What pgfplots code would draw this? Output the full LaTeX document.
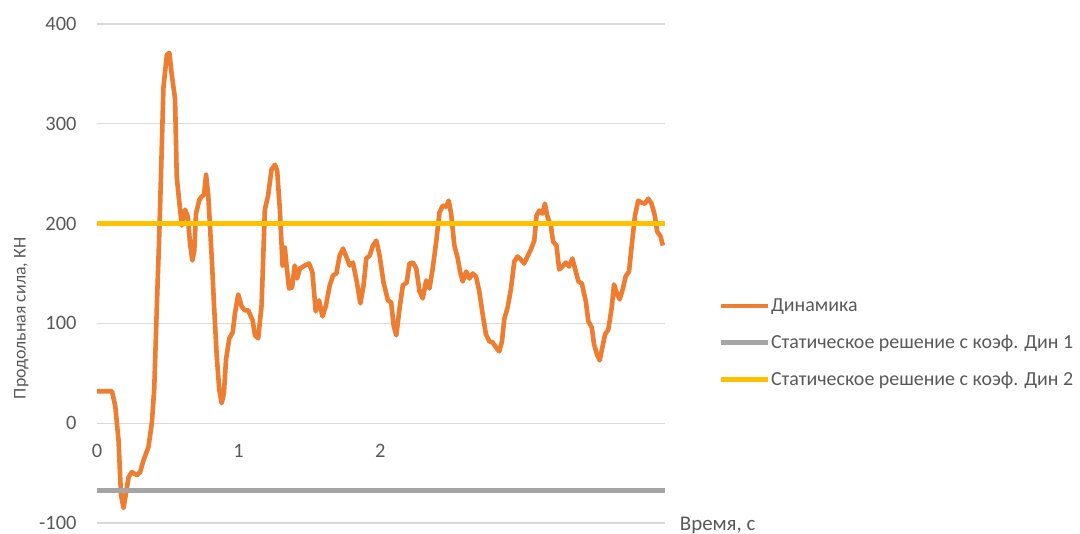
\documentclass[border=0pt]{standalone}
\usepackage{pgfplots}
\pgfplotsset{compat=1.18}
\usepackage{fontspec}
\setmainfont{Carlito}
\definecolor{cOrange}{HTML}{ED7D31}
\definecolor{cGray}{HTML}{A5A5A5}
\definecolor{cYellow}{HTML}{FFC000}
\definecolor{cText}{HTML}{595959}
\definecolor{cGrid}{HTML}{D9D9D9}
\begin{document}
\begin{tikzpicture}
\useasboundingbox (0,0) rectangle (1080bp,534bp);
\begin{axis}[
  at={(97bp,11bp)}, anchor=south west,
  scale only axis, width=568bp, height=499bp,
  xmin=0, xmax=4.01, ymin=-100, ymax=400,
  axis x line=middle, axis y line=left,
  hide obscured x ticks=false,
  axis line style={draw=none},
  major tick length=0pt,
  xtick={0,1,2}, ytick={-100,0,100,200,300,400},
  ymajorgrids, grid style={cGrid, line width=1.2bp},
  /pgf/number format/assume math mode=true,
  tick label style={font=\fontsize{20.5}{24}\selectfont, text=cText},
  xticklabel style={anchor=north, yshift=-18bp},
  yticklabel style={anchor=east, xshift=-17bp},
  xlabel={Время, с},
  ylabel={Продольная сила, КН},
  xlabel style={at={(axis description cs:1.02,-0.005)}, anchor=west, font=\fontsize{21}{24}\selectfont, text=cText},
  ylabel style={at={(axis description cs:-0.133,0.41)}, anchor=center, rotate=0, font=\fontsize{18}{22}\selectfont, text=cText},
  legend style={at={(axis description cs:1.093,0.361)}, anchor=west, draw=none, fill=none,
    font=\fontsize{20}{24}\selectfont, text=cText, row sep=20bp, inner sep=0pt,
    nodes={inner sep=1bp}},
  legend cell align=left,
  legend image code/.code={\draw[#1] (0bp,0bp) -- (47bp,0bp);},
  clip=false,
]
\addplot[cOrange, line width=4.6bp, line join=round] coordinates {
(0.000,32) (0.106,32) (0.129,17) (0.152,-17) (0.169,-71) (0.187,-85) (0.204,-71)
(0.223,-54) (0.246,-49) (0.282,-52) (0.305,-49) (0.324,-39) (0.347,-30) (0.363,-24)
(0.387,0) (0.404,34) (0.423,119) (0.439,186) (0.451,244) (0.469,336) (0.493,369)
(0.511,371) (0.528,349) (0.551,325) (0.563,247) (0.582,220) (0.599,198) (0.622,214)
(0.641,207) (0.657,180) (0.673,163) (0.687,173) (0.699,210) (0.723,224) (0.739,227)
(0.756,229) (0.770,249) (0.786,227) (0.810,166) (0.826,119) (0.845,68) (0.863,34)
(0.880,20) (0.896,30) (0.911,64) (0.934,85) (0.958,91) (0.974,110) (0.997,129)
(1.021,117) (1.044,113) (1.068,113) (1.099,103) (1.115,88) (1.138,85) (1.162,118)
(1.185,214) (1.208,228) (1.232,254) (1.256,259) (1.272,253) (1.291,214) (1.310,158)
(1.326,176) (1.338,158) (1.356,135) (1.377,136) (1.396,158) (1.413,145) (1.432,155)
(1.467,158) (1.497,160) (1.521,151) (1.544,112) (1.568,123) (1.592,107) (1.615,117)
(1.643,138) (1.666,148) (1.690,150) (1.713,168) (1.737,175) (1.765,165) (1.784,158)
(1.807,161) (1.835,141) (1.859,120) (1.882,138) (1.901,165) (1.925,168) (1.948,178)
(1.972,183) (1.995,168) (2.023,141) (2.054,123) (2.077,121) (2.094,98) (2.113,88)
(2.136,115) (2.159,138) (2.187,141) (2.206,160) (2.230,161) (2.254,155) (2.277,132)
(2.300,125) (2.324,143) (2.347,135) (2.370,155) (2.394,181) (2.418,211) (2.441,218)
(2.465,217) (2.483,223) (2.500,210) (2.523,178) (2.547,165) (2.563,152) (2.582,142)
(2.606,152) (2.629,145) (2.652,150) (2.676,147) (2.699,132) (2.723,109) (2.746,89)
(2.770,82) (2.793,81) (2.817,76) (2.840,72) (2.859,82) (2.875,104) (2.899,116)
(2.923,135) (2.946,162) (2.969,167) (2.993,164) (3.016,160) (3.039,167) (3.063,174)
(3.087,183) (3.103,208) (3.122,213) (3.145,210) (3.162,220) (3.180,207) (3.204,198)
(3.220,182) (3.244,178) (3.263,154) (3.286,157) (3.310,161) (3.333,157) (3.356,165)
(3.380,152) (3.399,142) (3.423,140) (3.451,122) (3.469,102) (3.493,96) (3.509,79)
(3.532,68) (3.549,63) (3.568,76) (3.587,89) (3.610,94) (3.634,116) (3.650,139)
(3.673,129) (3.690,124) (3.713,135) (3.732,147) (3.756,152) (3.775,178) (3.798,208)
(3.821,223) (3.845,221) (3.868,220) (3.892,225) (3.915,220) (3.938,208) (3.955,192)
(3.979,187) (3.995,178)
};
\addlegendentry{Динамика}
\addplot[cGray, line width=5bp] coordinates {(0,-67) (4.01,-67)};
\addlegendentry{Статическое решение с коэф. Дин 1}
\addplot[cYellow, line width=4.6bp] coordinates {(0,200) (4.01,200)};
\addlegendentry{Статическое решение с коэф. Дин 2}
\end{axis}
\end{tikzpicture}
\end{document}
